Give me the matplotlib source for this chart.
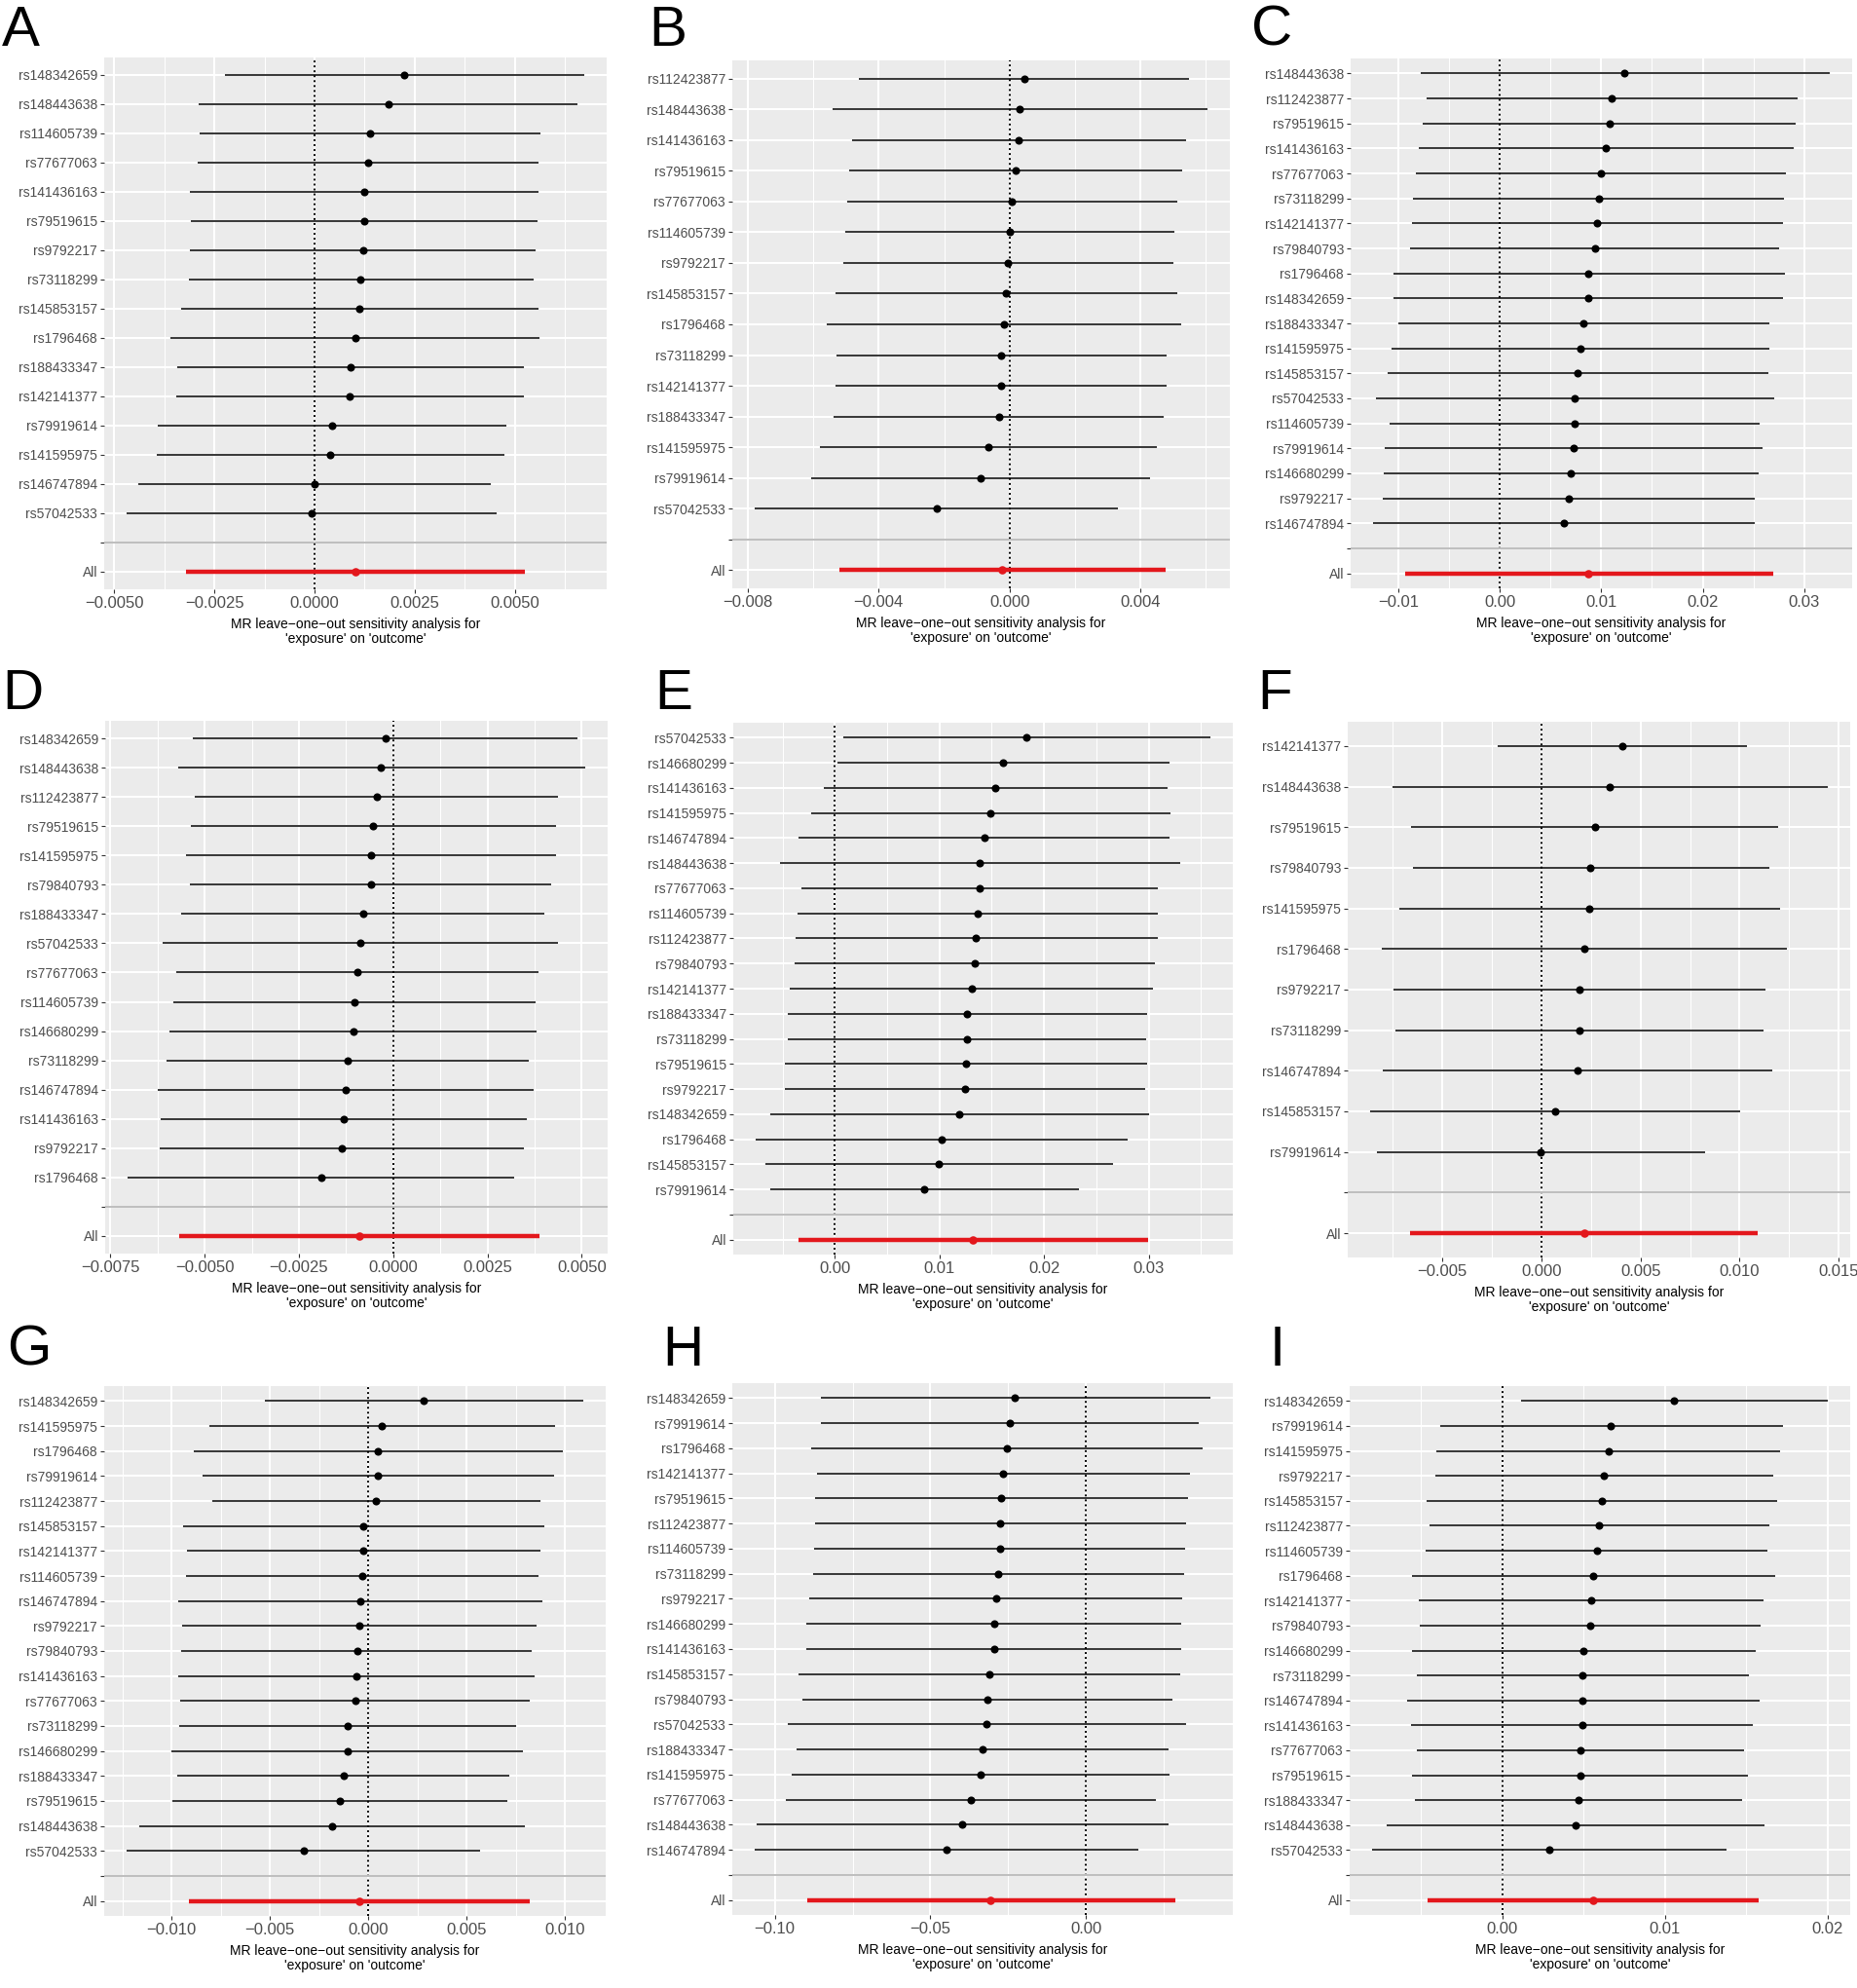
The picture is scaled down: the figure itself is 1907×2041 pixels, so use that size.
# MR leave-one-out sensitivity plots, 3x3 grid (ggplot look in matplotlib)
import numpy as np
import matplotlib.pyplot as plt

plt.rcParams['font.family'] = ['Liberation Sans Narrow', 'Liberation Sans', 'DejaVu Sans']

W, H = 1908, 2041
RED = '#E3171C'
XTITLE = "MR leave\u2212one\u2212out sensitivity analysis for\n'exposure' on 'outcome'"

# ---------------- panel A ----------------
snps_a = ['rs148342659', 'rs148443638', 'rs114605739', 'rs77677063', 'rs141436163', 'rs79519615',
          'rs9792217', 'rs73118299', 'rs145853157', 'rs1796468', 'rs188433347', 'rs142141377',
          'rs79919614', 'rs141595975', 'rs146747894', 'rs57042533']
b_a = [0.00224, 0.00184, 0.00138, 0.00134, 0.00123, 0.00123, 0.00121, 0.00114, 0.00112, 0.00102,
       0.00091, 0.00088, 0.00043, 0.00040, 0.00001, -0.00007]
lo_a = [-0.00224, -0.00290, -0.00286, -0.00292, -0.00310, -0.00308, -0.00310, -0.00314, -0.00334,
        -0.00359, -0.00342, -0.00345, -0.00391, -0.00393, -0.00439, -0.00468]
hi_a = [0.00672, 0.00656, 0.00563, 0.00559, 0.00558, 0.00556, 0.00552, 0.00546, 0.00558, 0.00562,
        0.00523, 0.00522, 0.00479, 0.00475, 0.00441, 0.00454]
all_a = [0.00102, -0.00321, 0.00524]  # beta, lower, upper
ticks_a = [-0.005, -0.0025, 0, 0.0025, 0.005]
tlab_a = ['\u22120.0050', '\u22120.0025', '0.0000', '0.0025', '0.0050']

# ---------------- panel B ----------------
snps_b = ['rs112423877', 'rs148443638', 'rs141436163', 'rs79519615', 'rs77677063', 'rs114605739',
          'rs9792217', 'rs145853157', 'rs1796468', 'rs73118299', 'rs142141377', 'rs188433347',
          'rs141595975', 'rs79919614', 'rs57042533']
b_b = [0.00045, 0.00030, 0.00029, 0.00018, 0.00007, 0.00001, -0.00004, -0.00010, -0.00018, -0.00025,
       -0.00027, -0.00033, -0.00064, -0.00089, -0.00223]
lo_b = [-0.00460, -0.00542, -0.00481, -0.00489, -0.00495, -0.00501, -0.00508, -0.00531, -0.00558,
        -0.00528, -0.00533, -0.00537, -0.00578, -0.00605, -0.00778]
hi_b = [0.00549, 0.00604, 0.00540, 0.00527, 0.00512, 0.00505, 0.00502, 0.00512, 0.00524, 0.00480,
        0.00480, 0.00471, 0.00451, 0.00428, 0.00331]
all_b = [-0.00023, -0.00520, 0.00476]
ticks_b = [-0.008, -0.004, 0, 0.004]
tlab_b = ['\u22120.008', '\u22120.004', '0.000', '0.004']

# ---------------- panel C ----------------
snps_c = ['rs148443638', 'rs112423877', 'rs79519615', 'rs141436163', 'rs77677063', 'rs73118299',
          'rs142141377', 'rs79840793', 'rs1796468', 'rs148342659', 'rs188433347', 'rs141595975',
          'rs145853157', 'rs57042533', 'rs114605739', 'rs79919614', 'rs146680299', 'rs9792217',
          'rs146747894']
b_c = [0.01231, 0.01102, 0.01079, 0.01048, 0.00997, 0.00974, 0.00962, 0.00935, 0.00876, 0.00872,
       0.00826, 0.00791, 0.00767, 0.00740, 0.00740, 0.00724, 0.00701, 0.00678, 0.00631]
lo_c = [-0.00783, -0.00724, -0.00756, -0.00795, -0.00826, -0.00853, -0.00869, -0.00884, -0.01048,
        -0.01044, -0.01001, -0.01067, -0.01106, -0.01223, -0.01083, -0.01133, -0.01141, -0.01153,
        -0.01246]
hi_c = [0.03248, 0.02933, 0.02917, 0.02894, 0.02824, 0.02800, 0.02793, 0.02754, 0.02808, 0.02793,
        0.02652, 0.02652, 0.02645, 0.02707, 0.02563, 0.02586, 0.02547, 0.02512, 0.02516]
all_c = [0.00876, -0.00935, 0.02691]
ticks_c = [-0.01, 0, 0.01, 0.02, 0.03]
tlab_c = ['\u22120.01', '0.00', '0.01', '0.02', '0.03']

# ---------------- panel D ----------------
snps_d = ['rs148342659', 'rs148443638', 'rs112423877', 'rs79519615', 'rs141595975', 'rs79840793',
          'rs188433347', 'rs57042533', 'rs77677063', 'rs114605739', 'rs146680299', 'rs73118299',
          'rs146747894', 'rs141436163', 'rs9792217', 'rs1796468']
b_d = [-0.00021, -0.00032, -0.00044, -0.00054, -0.00060, -0.00060, -0.00080, -0.00087, -0.00096,
       -0.00103, -0.00106, -0.00121, -0.00127, -0.00131, -0.00137, -0.00191]
lo_d = [-0.00530, -0.00571, -0.00525, -0.00537, -0.00549, -0.00538, -0.00561, -0.00611, -0.00576,
        -0.00582, -0.00592, -0.00600, -0.00624, -0.00617, -0.00619, -0.00703]
hi_d = [0.00488, 0.00508, 0.00437, 0.00431, 0.00432, 0.00419, 0.00402, 0.00438, 0.00384, 0.00377,
        0.00381, 0.00359, 0.00372, 0.00355, 0.00347, 0.00320]
all_d = [-0.00090, -0.00567, 0.00387]
ticks_d = [-0.0075, -0.005, -0.0025, 0, 0.0025, 0.005]
tlab_d = ['\u22120.0075', '\u22120.0050', '\u22120.0025', '0.0000', '0.0025', '0.0050']

# ---------------- panel E ----------------
snps_e = ['rs57042533', 'rs146680299', 'rs141436163', 'rs141595975', 'rs146747894', 'rs148443638',
          'rs77677063', 'rs114605739', 'rs112423877', 'rs79840793', 'rs142141377', 'rs188433347',
          'rs73118299', 'rs79519615', 'rs9792217', 'rs148342659', 'rs1796468', 'rs145853157',
          'rs79919614']
b_e = [0.01829, 0.01607, 0.01536, 0.01491, 0.01430, 0.01385, 0.01381, 0.01363, 0.01351, 0.01340,
       0.01306, 0.01268, 0.01261, 0.01257, 0.01242, 0.01193, 0.01020, 0.00994, 0.00858]
lo_e = [0.00079, 0.00023, -0.00109, -0.00226, -0.00343, -0.00527, -0.00320, -0.00358, -0.00376,
        -0.00380, -0.00429, -0.00452, -0.00452, -0.00474, -0.00474, -0.00617, -0.00753, -0.00662,
        -0.00617]
hi_e = [0.03587, 0.03199, 0.03184, 0.03211, 0.03199, 0.03297, 0.03087, 0.03083, 0.03083, 0.03064,
        0.03045, 0.02989, 0.02977, 0.02989, 0.02962, 0.03007, 0.02797, 0.02658, 0.02337]
all_e = [0.01321, -0.00346, 0.02992]
ticks_e = [0, 0.01, 0.02, 0.03]
tlab_e = ['0.00', '0.01', '0.02', '0.03']

# ---------------- panel F ----------------
snps_f = ['rs142141377', 'rs148443638', 'rs79519615', 'rs79840793', 'rs141595975', 'rs1796468',
          'rs9792217', 'rs73118299', 'rs146747894', 'rs145853157', 'rs79919614']
b_f = [0.00406, 0.00342, 0.00268, 0.00248, 0.00240, 0.00216, 0.00192, 0.00192, 0.00180, 0.00070,
       -0.00004]
lo_f = [-0.00220, -0.00753, -0.00657, -0.00647, -0.00719, -0.00807, -0.00745, -0.00737, -0.00799,
        -0.00863, -0.00833]
hi_f = [0.01035, 0.01443, 0.01195, 0.01149, 0.01203, 0.01239, 0.01131, 0.01121, 0.01163, 0.01002,
        0.00825]
all_f = [0.00214, -0.00663, 0.01091]
ticks_f = [-0.005, 0, 0.005, 0.01, 0.015]
tlab_f = ['\u22120.005', '0.000', '0.005', '0.010', '0.015']

# ---------------- panel G ----------------
snps_g = ['rs148342659', 'rs141595975', 'rs1796468', 'rs79919614', 'rs112423877', 'rs145853157',
          'rs142141377', 'rs114605739', 'rs146747894', 'rs9792217', 'rs79840793', 'rs141436163',
          'rs77677063', 'rs73118299', 'rs146680299', 'rs188433347', 'rs79519615', 'rs148443638',
          'rs57042533']
b_g = [0.00283, 0.00070, 0.00050, 0.00048, 0.00040, -0.00024, -0.00024, -0.00032, -0.00042,
       -0.00044, -0.00058, -0.00060, -0.00068, -0.00103, -0.00105, -0.00125, -0.00145, -0.00183,
       -0.00328]
lo_g = [-0.00525, -0.00806, -0.00886, -0.00844, -0.00794, -0.00943, -0.00923, -0.00925, -0.00965,
        -0.00945, -0.00949, -0.00965, -0.00957, -0.00959, -0.00999, -0.00969, -0.00997, -0.01162,
        -0.01226]
hi_g = [0.01090, 0.00949, 0.00989, 0.00943, 0.00874, 0.00896, 0.00874, 0.00862, 0.00882, 0.00854,
        0.00832, 0.00844, 0.00822, 0.00752, 0.00784, 0.00717, 0.00708, 0.00796, 0.00569]
all_g = [-0.00044, -0.00909, 0.00820]
ticks_g = [-0.01, -0.005, 0, 0.005, 0.01]
tlab_g = ['\u22120.010', '\u22120.005', '0.000', '0.005', '0.010']

# ---------------- panel H ----------------
snps_h = ['rs148342659', 'rs79919614', 'rs1796468', 'rs142141377', 'rs79519615', 'rs112423877',
          'rs114605739', 'rs73118299', 'rs9792217', 'rs146680299', 'rs141436163', 'rs145853157',
          'rs79840793', 'rs57042533', 'rs188433347', 'rs141595975', 'rs77677063', 'rs148443638',
          'rs146747894']
b_h = [-0.02274, -0.02440, -0.02529, -0.02656, -0.02719, -0.02745, -0.02770, -0.02808, -0.02897,
       -0.02960, -0.02960, -0.03100, -0.03164, -0.03189, -0.03329, -0.03380, -0.03710, -0.03977,
       -0.04485]
lo_h = [-0.08526, -0.08513, -0.08831, -0.08640, -0.08716, -0.08716, -0.08729, -0.08767, -0.08894,
        -0.08983, -0.08983, -0.09225, -0.09110, -0.09593, -0.09301, -0.09453, -0.09657, -0.10584,
        -0.10635]
hi_h = [0.03990, 0.03634, 0.03761, 0.03342, 0.03291, 0.03227, 0.03202, 0.03151, 0.03088, 0.03075,
        0.03062, 0.03024, 0.02783, 0.03227, 0.02656, 0.02694, 0.02262, 0.02643, 0.01677]
all_h = [-0.03062, -0.08970, 0.02884]
ticks_h = [-0.1, -0.05, 0]
tlab_h = ['\u22120.10', '\u22120.05', '0.00']

# ---------------- panel I ----------------
snps_i = ['rs148342659', 'rs79919614', 'rs141595975', 'rs9792217', 'rs145853157', 'rs112423877',
          'rs114605739', 'rs1796468', 'rs142141377', 'rs79840793', 'rs146680299', 'rs73118299',
          'rs146747894', 'rs141436163', 'rs77677063', 'rs79519615', 'rs188433347', 'rs148443638',
          'rs57042533']
b_i = [0.01058, 0.00669, 0.00652, 0.00625, 0.00613, 0.00596, 0.00581, 0.00562, 0.00545, 0.00540,
       0.00501, 0.00496, 0.00496, 0.00491, 0.00482, 0.00479, 0.00470, 0.00453, 0.00292]
lo_i = [0.00117, -0.00384, -0.00404, -0.00411, -0.00467, -0.00448, -0.00470, -0.00555, -0.00513,
        -0.00508, -0.00557, -0.00526, -0.00586, -0.00562, -0.00526, -0.00557, -0.00535, -0.00710,
        -0.00798]
hi_i = [0.02000, 0.01725, 0.01710, 0.01664, 0.01693, 0.01645, 0.01633, 0.01679, 0.01606, 0.01591,
        0.01560, 0.01518, 0.01582, 0.01543, 0.01489, 0.01513, 0.01477, 0.01613, 0.01382]
all_i = [0.00560, -0.00460, 0.01579]
ticks_i = [0, 0.01, 0.02]
tlab_i = ['0.00', '0.01', '0.02']


def loo_plot(ax, snps, b, lo, hi, tot, ticks, tlab):
    n = len(snps)
    ypos = np.arange(n + 2, 2, -1)          # top SNP highest, then "" (2) and All (1)
    vals = lo + hi + b + tot + [0]
    rng = max(vals) - min(vals)
    x0, x1 = min(vals) - 0.05 * rng, max(vals) + 0.05 * rng

    ax.set_facecolor('#EBEBEB')
    for s in ax.spines.values():
        s.set_visible(False)
    ax.set_axisbelow(True)

    step = ticks[1] - ticks[0]
    minor = np.arange(ticks[0] - step * 4.5, ticks[-1] + step * 5, step)
    minor = minor[(minor > x0) & (minor < x1)]
    ax.set_xticks(minor, minor=True)
    ax.set_xticks(ticks)
    ax.set_xticklabels(tlab)
    ax.set_yticks(list(ypos) + [2, 1])
    ax.set_yticklabels(list(snps) + ['', 'All'])
    ax.grid(which='major', color='white', lw=1.5)
    ax.grid(which='minor', axis='x', color='white', lw=0.75)
    ax.tick_params(which='minor', length=0)
    ax.tick_params(which='major', length=3, width=0.8, color='#333333', pad=2)
    ax.tick_params(axis='y', labelsize=10, labelcolor='#4D4D4D')
    ax.tick_params(axis='x', labelsize=12, labelcolor='#4D4D4D')

    ax.axvline(0, color='black', lw=1.4, ls=(0, (1, 1.6)), zorder=1)
    ax.hlines(ypos, lo, hi, color='black', lw=1.1, zorder=2)
    ax.scatter(b, ypos, s=34, color='black', zorder=3, linewidths=0)
    ax.hlines(1, tot[1], tot[2], color=RED, lw=3.2, zorder=2)
    ax.scatter([tot[0]], [1], s=38, color=RED, zorder=3, linewidths=0)
    ax.axhline(2, color='#BEBEBE', lw=1.4, zorder=4)

    ax.set_xlim(x0, x1)
    ax.set_ylim(0.4, n + 2.6)
    ax.set_xlabel(XTITLE, fontsize=10, labelpad=5, linespacing=1.1)


panels = [
    ('A', (107, 59, 623, 605), (2, 47), snps_a, b_a, lo_a, hi_a, all_a, ticks_a, tlab_a),
    ('B', (752, 62, 1263, 604), (666, 47), snps_b, b_b, lo_b, hi_b, all_b, ticks_b, tlab_b),
    ('C', (1387, 60, 1902, 604), (1285, 47), snps_c, b_c, lo_c, hi_c, all_c, ticks_c, tlab_c),
    ('D', (108, 740, 624, 1287), (2, 728), snps_d, b_d, lo_d, hi_d, all_d, ticks_d, tlab_d),
    ('E', (753, 742, 1266, 1288), (672, 728), snps_e, b_e, lo_e, hi_e, all_e, ticks_e, tlab_e),
    ('F', (1384, 741, 1900, 1291), (1291, 728), snps_f, b_f, lo_f, hi_f, all_f, ticks_f, tlab_f),
    ('G', (107, 1423, 622, 1967), (7, 1402), snps_g, b_g, lo_g, hi_g, all_g, ticks_g, tlab_g),
    ('H', (752, 1420, 1266, 1966), (680, 1402), snps_h, b_h, lo_h, hi_h, all_h, ticks_h, tlab_h),
    ('I', (1386, 1423, 1900, 1966), (1304, 1402), snps_i, b_i, lo_i, hi_i, all_i, ticks_i, tlab_i),
]

fig = plt.figure(figsize=(W / 100, H / 100), dpi=100)
for letter, (l, t, r, bt), (lx, ly), snps, b, lo, hi, tot, ticks, tlab in panels:
    ax = fig.add_axes([l / W, 1 - bt / H, (r - l) / W, (bt - t) / H])
    loo_plot(ax, snps, b, lo, hi, tot, ticks, tlab)
    fig.text(lx / W, 1 - ly / H, letter, fontsize=42, ha='left', va='baseline',
             family=['Liberation Sans', 'DejaVu Sans'])

fig.savefig('out.png', dpi=100, facecolor='white')
